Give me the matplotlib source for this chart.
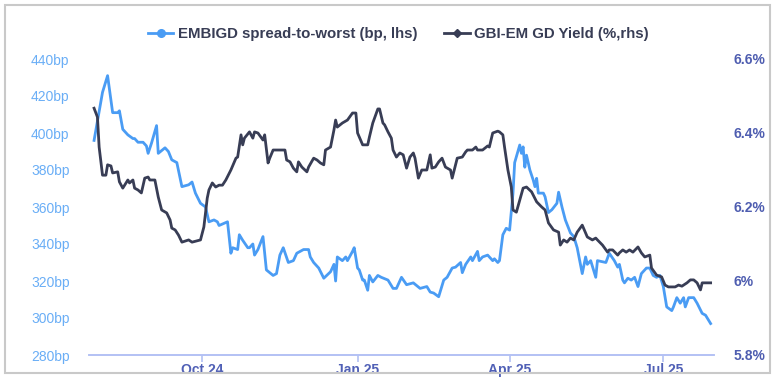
import pandas as pd
import matplotlib.pyplot as plt
import matplotlib.dates as mdates
from matplotlib.lines import Line2D
from matplotlib.patches import Rectangle

plt.rcParams['font.family'] = ['Liberation Sans', 'DejaVu Sans']

# EMBIGD spread-to-worst, bp (left axis)
emb_dates = [
    '2024-07-29', '2024-08-03', '2024-08-06', '2024-08-09', '2024-08-12', '2024-08-13', '2024-08-15',
    '2024-08-18', '2024-08-21', '2024-08-22', '2024-08-24', '2024-08-27', '2024-08-29', '2024-08-30',
    '2024-09-01', '2024-09-04', '2024-09-05', '2024-09-09', '2024-09-11', '2024-09-13', '2024-09-16',
    '2024-09-19', '2024-09-23', '2024-09-25', '2024-09-27', '2024-09-30', '2024-10-03', '2024-10-05',
    '2024-10-08', '2024-10-10', '2024-10-11', '2024-10-16', '2024-10-18', '2024-10-19', '2024-10-22',
    '2024-10-23', '2024-10-25', '2024-10-28', '2024-10-29', '2024-10-31', '2024-11-01', '2024-11-03',
    '2024-11-06', '2024-11-08', '2024-11-12', '2024-11-14', '2024-11-16', '2024-11-18', '2024-11-21',
    '2024-11-24', '2024-11-26', '2024-11-28', '2024-11-30', '2024-12-03', '2024-12-04', '2024-12-06',
    '2024-12-09', '2024-12-12', '2024-12-16', '2024-12-18', '2024-12-19', '2024-12-20', '2024-12-23',
    '2024-12-25', '2024-12-26', '2024-12-29', '2024-12-30', '2025-01-01', '2025-01-02', '2025-01-04',
    '2025-01-05', '2025-01-07', '2025-01-08', '2025-01-10', '2025-01-13', '2025-01-15', '2025-01-19',
    '2025-01-22', '2025-01-24', '2025-01-27', '2025-01-30', '2025-02-03', '2025-02-07', '2025-02-11',
    '2025-02-13', '2025-02-15', '2025-02-18', '2025-02-21', '2025-02-23', '2025-02-26', '2025-02-28',
    '2025-03-03', '2025-03-04', '2025-03-06', '2025-03-09', '2025-03-10', '2025-03-13', '2025-03-14',
    '2025-03-16', '2025-03-19', '2025-03-22', '2025-03-23', '2025-03-25', '2025-03-26', '2025-03-28',
    '2025-03-30', '2025-04-01', '2025-04-03', '2025-04-04', '2025-04-07', '2025-04-08', '2025-04-09',
    '2025-04-10', '2025-04-11', '2025-04-13', '2025-04-15', '2025-04-16', '2025-04-17', '2025-04-18',
    '2025-04-21', '2025-04-22', '2025-04-24', '2025-04-26', '2025-04-29', '2025-04-30', '2025-05-02',
    '2025-05-04', '2025-05-07', '2025-05-09', '2025-05-11', '2025-05-14', '2025-05-16', '2025-05-17',
    '2025-05-19', '2025-05-22', '2025-05-23', '2025-05-28', '2025-05-30', '2025-06-02', '2025-06-04',
    '2025-06-05', '2025-06-07', '2025-06-08', '2025-06-10', '2025-06-12', '2025-06-14', '2025-06-16',
    '2025-06-18', '2025-06-21', '2025-06-23', '2025-06-25', '2025-06-27', '2025-06-29', '2025-07-01',
    '2025-07-03', '2025-07-06', '2025-07-07', '2025-07-09', '2025-07-11', '2025-07-13', '2025-07-14',
    '2025-07-16', '2025-07-19', '2025-07-21', '2025-07-24', '2025-07-26', '2025-07-29',
]
emb_bp = [
    396, 422, 431, 411, 411, 412, 402,
    399, 397, 397, 395, 395, 393, 389,
    394.5, 404, 389, 392, 390, 385.5, 384,
    371, 372, 373.5, 367.5, 362, 360, 352,
    353, 352, 350, 352, 335, 338, 337,
    345, 342, 338, 338, 340, 334, 337,
    344, 326, 323, 324, 334, 338, 330,
    331, 335, 336, 337, 337, 333, 330,
    327, 321.5, 325, 329, 320, 333, 331,
    333, 331, 336, 338, 327, 326, 320.5,
    320.5, 315, 323, 319.5, 323, 322, 320.5,
    316, 316, 322, 318, 319, 316, 317,
    314, 313.5, 311.5, 320.5, 322, 327, 327.5,
    330, 324.5, 329, 333, 331, 336, 331,
    333, 334, 331, 332, 330, 331, 345,
    348.5, 347.5, 367.5, 384, 393.5, 389, 392.5,
    381.5, 388, 380, 374.5, 371, 375.5, 367.5,
    367.5, 365.5, 357, 358.5, 362, 368, 360,
    353, 346, 344, 338, 324, 333, 329,
    331, 322, 331, 330, 335, 331, 327.5,
    329, 320.5, 319, 321.5, 320.5, 322, 317,
    324, 327, 327, 323, 322, 323, 317,
    306, 304, 306, 311, 308, 311, 306,
    311, 311, 308, 302.5, 301.5, 297,
]

# GBI-EM GD yield, % (right axis)
gbi_dates = [
    '2024-07-29', '2024-07-31', '2024-08-01', '2024-08-03', '2024-08-05', '2024-08-06', '2024-08-08',
    '2024-08-09', '2024-08-12', '2024-08-13', '2024-08-15', '2024-08-18', '2024-08-19', '2024-08-21',
    '2024-08-22', '2024-08-24', '2024-08-26', '2024-08-28', '2024-08-30', '2024-08-31', '2024-09-03',
    '2024-09-05', '2024-09-07', '2024-09-10', '2024-09-12', '2024-09-13', '2024-09-15', '2024-09-17',
    '2024-09-19', '2024-09-23', '2024-09-25', '2024-09-30', '2024-10-02', '2024-10-04', '2024-10-05',
    '2024-10-07', '2024-10-09', '2024-10-11', '2024-10-13', '2024-10-15', '2024-10-18', '2024-10-21',
    '2024-10-22', '2024-10-24', '2024-10-25', '2024-10-26', '2024-10-29', '2024-10-31', '2024-11-01',
    '2024-11-03', '2024-11-06', '2024-11-07', '2024-11-09', '2024-11-10', '2024-11-12', '2024-11-15',
    '2024-11-19', '2024-11-20', '2024-11-22', '2024-11-24', '2024-11-26', '2024-11-27', '2024-11-29',
    '2024-12-02', '2024-12-03', '2024-12-06', '2024-12-08', '2024-12-10', '2024-12-12', '2024-12-13',
    '2024-12-16', '2024-12-18', '2024-12-19', '2024-12-20', '2024-12-23', '2024-12-26', '2024-12-29',
    '2024-12-31', '2025-01-01', '2025-01-04', '2025-01-07', '2025-01-08', '2025-01-10', '2025-01-13',
    '2025-01-14', '2025-01-16', '2025-01-17', '2025-01-19', '2025-01-21', '2025-01-22', '2025-01-24',
    '2025-01-26', '2025-01-28', '2025-01-30', '2025-02-01', '2025-02-03', '2025-02-04', '2025-02-06',
    '2025-02-08', '2025-02-11', '2025-02-13', '2025-02-14', '2025-02-16', '2025-02-18', '2025-02-20',
    '2025-02-22', '2025-02-25', '2025-02-26', '2025-03-01', '2025-03-04', '2025-03-06', '2025-03-07',
    '2025-03-10', '2025-03-12', '2025-03-13', '2025-03-16', '2025-03-19', '2025-03-20', '2025-03-21',
    '2025-03-22', '2025-03-25', '2025-03-26', '2025-03-28', '2025-03-29', '2025-03-31', '2025-04-02',
    '2025-04-03', '2025-04-05', '2025-04-07', '2025-04-09', '2025-04-11', '2025-04-14', '2025-04-17',
    '2025-04-20', '2025-04-22', '2025-04-24', '2025-04-27', '2025-04-30', '2025-05-01', '2025-05-03',
    '2025-05-05', '2025-05-07', '2025-05-09', '2025-05-11', '2025-05-14', '2025-05-16', '2025-05-17',
    '2025-05-20', '2025-05-22', '2025-05-23', '2025-05-26', '2025-05-29', '2025-05-30', '2025-06-01',
    '2025-06-04', '2025-06-05', '2025-06-07', '2025-06-09', '2025-06-11', '2025-06-13', '2025-06-16',
    '2025-06-18', '2025-06-20', '2025-06-23', '2025-06-24', '2025-06-27', '2025-06-30', '2025-07-02',
    '2025-07-04', '2025-07-08', '2025-07-10', '2025-07-12', '2025-07-15', '2025-07-17', '2025-07-19',
    '2025-07-21', '2025-07-23', '2025-07-24', '2025-07-29',
]
gbi_yield = [
    6.467, 6.443, 6.362, 6.286, 6.286, 6.314, 6.311,
    6.292, 6.295, 6.268, 6.251, 6.273, 6.265, 6.273,
    6.251, 6.246, 6.238, 6.278, 6.281, 6.273, 6.273,
    6.227, 6.192, 6.184, 6.165, 6.143, 6.138, 6.124,
    6.105, 6.111, 6.105, 6.111, 6.146, 6.224, 6.246,
    6.265, 6.254, 6.259, 6.259, 6.273, 6.300, 6.332,
    6.335, 6.395, 6.368, 6.386, 6.403, 6.386, 6.403,
    6.400, 6.381, 6.395, 6.319, 6.332, 6.354, 6.354,
    6.354, 6.327, 6.322, 6.305, 6.295, 6.322, 6.308,
    6.295, 6.308, 6.332, 6.327, 6.319, 6.314, 6.354,
    6.362, 6.408, 6.435, 6.416, 6.427, 6.435, 6.454,
    6.454, 6.400, 6.368, 6.368, 6.389, 6.427, 6.465,
    6.465, 6.427, 6.422, 6.403, 6.386, 6.354, 6.335,
    6.346, 6.341, 6.305, 6.335, 6.346, 6.332, 6.278,
    6.300, 6.300, 6.341, 6.305, 6.308, 6.322, 6.332,
    6.308, 6.300, 6.278, 6.332, 6.335, 6.349, 6.354,
    6.354, 6.362, 6.354, 6.354, 6.365, 6.362, 6.381,
    6.400, 6.405, 6.403, 6.395, 6.362, 6.300, 6.254,
    6.192, 6.186, 6.219, 6.251, 6.254, 6.241, 6.214,
    6.200, 6.192, 6.157, 6.138, 6.132, 6.097, 6.111,
    6.105, 6.116, 6.111, 6.132, 6.151, 6.130, 6.119,
    6.111, 6.116, 6.111, 6.097, 6.078, 6.084, 6.084,
    6.070, 6.076, 6.084, 6.078, 6.084, 6.078, 6.092,
    6.076, 6.065, 6.070, 6.035, 6.016, 6.011, 5.989,
    5.984, 5.984, 5.989, 5.986, 5.995, 6.003, 6.003,
    5.995, 5.976, 5.995, 5.995,
]

left_ticks = [280, 300, 320, 340, 360, 380, 400, 420, 440]
right_ticks = [5.8, 6.0, 6.2, 6.4, 6.6]
x_ticks = ['2024-10-01', '2025-01-01', '2025-04-01', '2025-07-01']

blue = '#4a9cf4'
dark = '#383d55'

fig = plt.figure(figsize=(7.75, 3.92), dpi=100)
fig.patches.append(Rectangle((5 / 775, 1 - 373 / 392), 765 / 775, 368 / 392,
                             transform=fig.transFigure, fill=False,
                             edgecolor='#c9c9c9', linewidth=1.5))

ax = fig.add_axes([89 / 775, 1 - 355 / 392, 625 / 775, 296 / 392])
ax2 = ax.twinx()

ax.plot(pd.to_datetime(emb_dates), emb_bp, color=blue, linewidth=2.0)
ax2.plot(pd.to_datetime(gbi_dates), gbi_yield, color=dark, linewidth=2.0)

ax.set_xlim(pd.Timestamp('2024-07-26'), pd.Timestamp('2025-07-31'))
ax.set_ylim(280, 440)
ax2.set_ylim(5.8, 6.6)

ax.set_yticks(left_ticks)
ax.set_yticklabels([f'{v}bp' for v in left_ticks])
ax2.set_yticks(right_ticks)
ax2.set_yticklabels([f'{v:g}%' for v in right_ticks])
ax.set_xticks(pd.to_datetime(x_ticks))
ax.xaxis.set_major_formatter(mdates.DateFormatter('%b %y'))

for a in (ax, ax2):
    for s in ('top', 'left', 'right'):
        a.spines[s].set_visible(False)
    a.spines['bottom'].set_color('#b3c1f4')
    a.spines['bottom'].set_linewidth(1.2)

ax.tick_params(axis='y', length=0, pad=14, labelsize=10, labelcolor='#6aaef6')
ax2.tick_params(axis='y', length=0, pad=14, labelsize=10, labelcolor='#4e5db0')
ax.tick_params(axis='x', length=5, width=1.2, color='#b3c1f4', pad=1,
               labelsize=10, labelcolor='#5060b6')
for lab in ax.get_xticklabels() + ax2.get_yticklabels():
    lab.set_fontweight('bold')

handles = [
    Line2D([], [], color=blue, linewidth=2.0, marker='o', markersize=5.5),
    Line2D([], [], color=dark, linewidth=2.0, marker='D', markersize=4),
]
fig.legend(handles, ['EMBIGD spread-to-worst (bp, lhs)', 'GBI-EM GD Yield (%,rhs)'],
           loc='center', bbox_to_anchor=(0.514, 0.913), ncol=2, frameon=False,
           numpoints=1, handlelength=1.7, handletextpad=0.3, columnspacing=1.8,
           prop={'weight': 'bold', 'size': 10.8}, labelcolor='#383d55')

fig.savefig('out.png', dpi=100)
